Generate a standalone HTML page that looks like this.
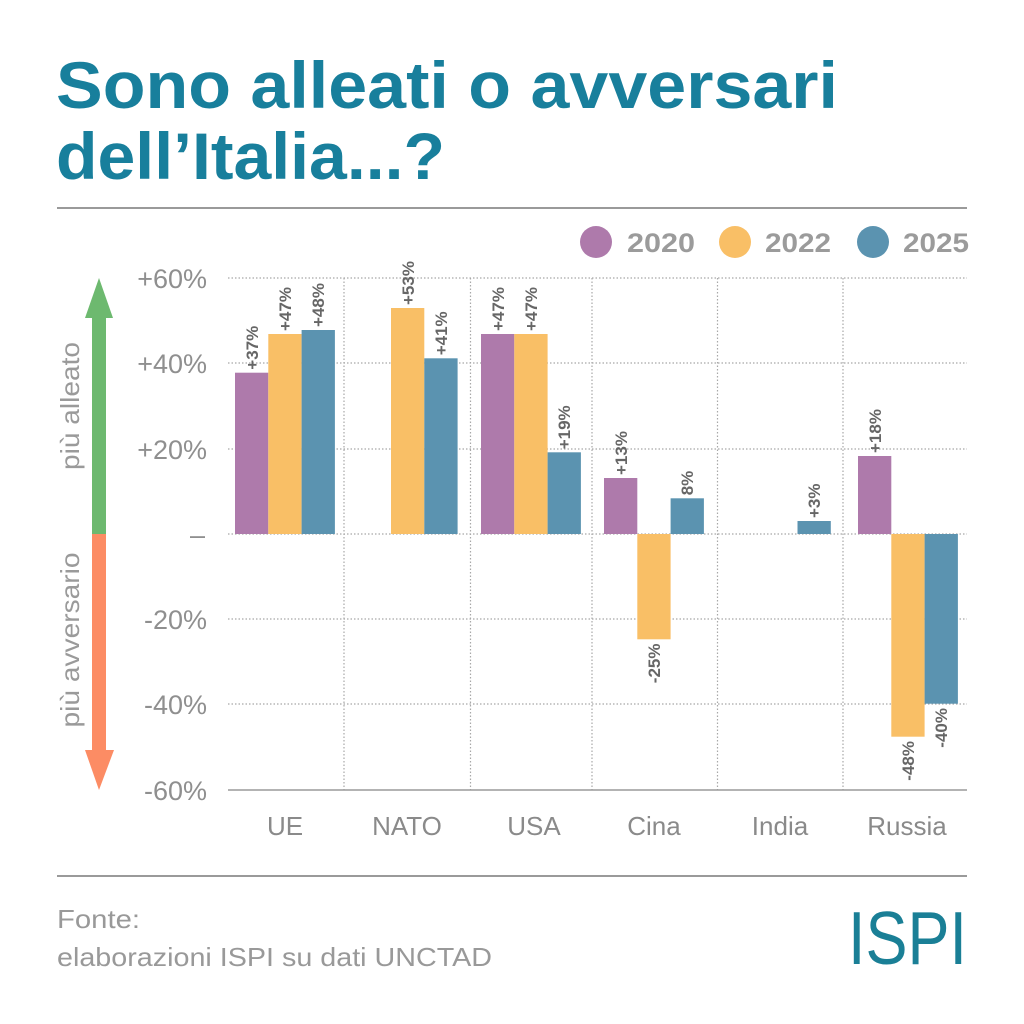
<!DOCTYPE html>
<html><head><meta charset="utf-8"><style>
html,body{margin:0;padding:0;background:#fff;}
svg{display:block;}
text{font-family:"Liberation Sans",sans-serif;}
</style></head><body>
<svg width="1024" height="1024" viewBox="0 0 1024 1024" xmlns="http://www.w3.org/2000/svg">
<rect width="1024" height="1024" fill="#fff"/>
<!-- Title -->
<text x="56" y="108" font-size="66" font-weight="bold" fill="#187f9c" textLength="782" lengthAdjust="spacingAndGlyphs">Sono alleati o avversari</text>
<text x="56" y="179" font-size="66" font-weight="bold" fill="#187f9c" textLength="389" lengthAdjust="spacingAndGlyphs">dell’Italia...?</text>
<line x1="57" y1="208" x2="967" y2="208" stroke="#9a9a9a" stroke-width="2"/>

<!-- Legend -->
<circle cx="596" cy="242" r="16" fill="#ae7aab"/>
<text x="627" y="252" font-size="27" font-weight="bold" fill="#9b9b9b" textLength="68" lengthAdjust="spacingAndGlyphs">2020</text>
<circle cx="735" cy="242" r="16" fill="#f9bf66"/>
<text x="765" y="252" font-size="27" font-weight="bold" fill="#9b9b9b" textLength="66" lengthAdjust="spacingAndGlyphs">2022</text>
<circle cx="873" cy="242" r="16" fill="#5b93b0"/>
<text x="903" y="252" font-size="27" font-weight="bold" fill="#9b9b9b" textLength="66" lengthAdjust="spacingAndGlyphs">2025</text>

<!-- Grid -->
<g stroke="#a8a8a8" stroke-width="1.2" stroke-dasharray="1.5 2" fill="none">
<line x1="228" y1="278" x2="967" y2="278"/>
<line x1="228" y1="363" x2="967" y2="363"/>
<line x1="228" y1="449" x2="967" y2="449"/>
<line x1="228" y1="534" x2="967" y2="534"/>
<line x1="228" y1="619" x2="967" y2="619"/>
<line x1="228" y1="704" x2="967" y2="704"/>
<line x1="344" y1="278" x2="344" y2="790"/>
<line x1="470.5" y1="278" x2="470.5" y2="790"/>
<line x1="592" y1="278" x2="592" y2="790"/>
<line x1="717.5" y1="278" x2="717.5" y2="790"/>
<line x1="843" y1="278" x2="843" y2="790"/>
</g>
<line x1="228" y1="790" x2="967" y2="790" stroke="#9a9a9a" stroke-width="1.5"/>

<!-- Y ticks -->
<g font-size="27" fill="#8f8f8f" text-anchor="end">
<text x="207" y="288">+60%</text>
<text x="207" y="373">+40%</text>
<text x="207" y="459">+20%</text>
<text x="205" y="544">–</text>
<text x="207" y="629">-20%</text>
<text x="207" y="714">-40%</text>
<text x="207" y="800">-60%</text>
</g>

<!-- Side arrows -->
<rect x="92" y="316" width="14" height="218" fill="#6db96f"/>
<polygon points="85,318 113,318 99,278" fill="#6db96f"/>
<rect x="92" y="534" width="14" height="218" fill="#fc8c64"/>
<polygon points="85,750 114,750 99,790" fill="#fc8c64"/>
<text transform="translate(79,406) rotate(-90)" text-anchor="middle" font-size="26" fill="#9a9a9a" textLength="128" lengthAdjust="spacingAndGlyphs">più alleato</text>
<text transform="translate(79,640) rotate(-90)" text-anchor="middle" font-size="26" fill="#9a9a9a" textLength="175" lengthAdjust="spacingAndGlyphs">più avversario</text>

<!-- Bars -->
<g>
<rect x="235" y="372.7" width="33.3" height="161.3" fill="#ae7aab"/>
<rect x="268.3" y="334" width="33.3" height="200" fill="#f9bf66"/>
<rect x="301.6" y="330" width="33.3" height="204" fill="#5b93b0"/>
<rect x="391" y="308" width="33.3" height="226" fill="#f9bf66"/>
<rect x="424.3" y="358.3" width="33.3" height="175.7" fill="#5b93b0"/>
<rect x="481" y="334" width="33.3" height="200" fill="#ae7aab"/>
<rect x="514.3" y="334" width="33.3" height="200" fill="#f9bf66"/>
<rect x="547.6" y="452.3" width="33.3" height="81.7" fill="#5b93b0"/>
<rect x="604" y="478" width="33.3" height="56" fill="#ae7aab"/>
<rect x="637.3" y="534" width="33.3" height="105.3" fill="#f9bf66"/>
<rect x="670.6" y="498.3" width="33.3" height="35.7" fill="#5b93b0"/>
<rect x="797.5" y="521" width="33.3" height="13" fill="#5b93b0"/>
<rect x="858" y="456" width="33.3" height="78" fill="#ae7aab"/>
<rect x="891.3" y="534" width="33.3" height="202.7" fill="#f9bf66"/>
<rect x="924.6" y="534" width="33.3" height="169.7" fill="#5b93b0"/>
</g>

<!-- Value labels -->
<g font-size="17" font-weight="bold" fill="#666">
<text transform="translate(258,369.7) rotate(-90)">+37%</text>
<text transform="translate(291,331) rotate(-90)">+47%</text>
<text transform="translate(324,327) rotate(-90)">+48%</text>
<text transform="translate(414,305) rotate(-90)">+53%</text>
<text transform="translate(447,355.3) rotate(-90)">+41%</text>
<text transform="translate(504,331) rotate(-90)">+47%</text>
<text transform="translate(537,331) rotate(-90)">+47%</text>
<text transform="translate(570,449.3) rotate(-90)">+19%</text>
<text transform="translate(627,475) rotate(-90)">+13%</text>
<text transform="translate(660,643.5) rotate(-90)" text-anchor="end">-25%</text>
<text transform="translate(693,495.3) rotate(-90)">8%</text>
<text transform="translate(820,518) rotate(-90)">+3%</text>
<text transform="translate(881,453) rotate(-90)">+18%</text>
<text transform="translate(914,741) rotate(-90)" text-anchor="end">-48%</text>
<text transform="translate(947,708) rotate(-90)" text-anchor="end">-40%</text>
</g>

<!-- Category labels -->
<g font-size="26" fill="#8a8a8a" text-anchor="middle">
<text x="285" y="835">UE</text>
<text x="407" y="835">NATO</text>
<text x="534" y="835">USA</text>
<text x="654" y="835">Cina</text>
<text x="780" y="835">India</text>
<text x="907" y="835">Russia</text>
</g>

<!-- Footer -->
<line x1="57" y1="876" x2="967" y2="876" stroke="#9a9a9a" stroke-width="2"/>
<text x="57" y="928" font-size="26" fill="#999" textLength="83" lengthAdjust="spacingAndGlyphs">Fonte:</text>
<text x="57" y="966" font-size="26" fill="#999" textLength="435" lengthAdjust="spacingAndGlyphs">elaborazioni ISPI su dati UNCTAD</text>
<text x="848" y="964" font-size="75" fill="#1a7f96" textLength="119" lengthAdjust="spacingAndGlyphs">ISPI</text>
</svg>
</body></html>
